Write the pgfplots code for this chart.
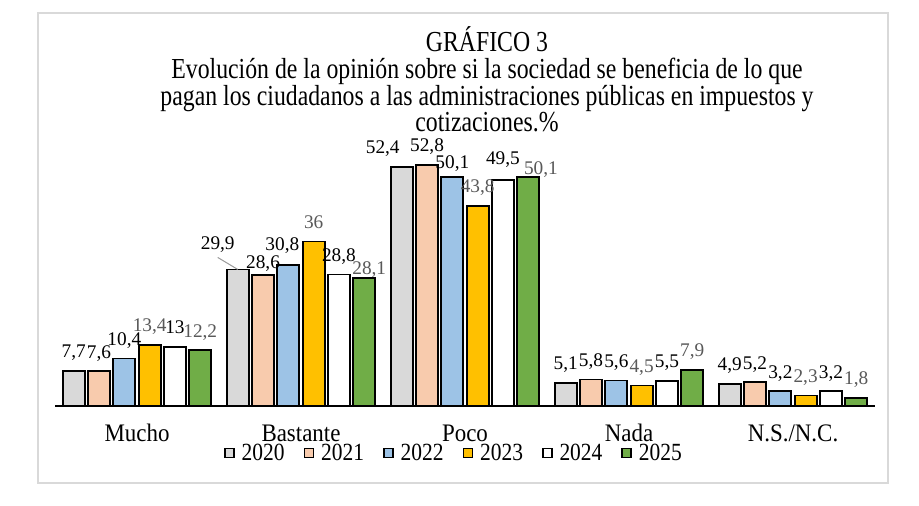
\documentclass[border=0pt]{standalone}
\usepackage{pgfplots}
\pgfplotsset{compat=1.18}
\usepackage{fontspec}
\setmainfont{Liberation Serif}
\newfontfamily\titlefont[FakeStretch=0.82]{Liberation Serif}
\newfontfamily\tickfont[FakeStretch=0.91]{Liberation Serif}
\newfontfamily\legfont[FakeStretch=0.87]{Liberation Serif}
\definecolor{c2020}{HTML}{D9D9D9}
\definecolor{c2021}{HTML}{F8CBAD}
\definecolor{c2022}{HTML}{9DC3E6}
\definecolor{c2023}{HTML}{FFC000}
\definecolor{c2024}{HTML}{FFFFFF}
\definecolor{c2025}{HTML}{70AD47}
\definecolor{lblgray}{HTML}{595959}
\definecolor{framegray}{HTML}{D9D9D9}
\begin{document}
\begin{tikzpicture}
\path[use as bounding box] (0pt,0pt) rectangle (919pt,506pt);
\fill[white] (0pt,0pt) rectangle (919pt,506pt);
\draw[framegray, line width=1.5pt] (38pt,23pt) rectangle (888pt,493pt);
\begin{scope}[every node/.style={anchor=base, inner sep=0pt, font=\titlefont\fontsize{29pt}{30pt}\selectfont}]
\node at (487pt,454.3pt) {GRÁFICO 3};
\node at (487pt,427.6pt) {Evolución de la opinión sobre si la sociedad se beneficia de lo que};
\node at (487pt,400.9pt) {pagan los ciudadanos a las administraciones públicas en impuestos y};
\node at (487pt,374.2pt) {cotizaciones.\%};
\end{scope}
\begin{axis}[
  at={(55pt,100pt)}, anchor=south west,
  scale only axis, width=820pt, height=274pt,
  xmin=-0.5, xmax=4.5, ymin=0, ymax=60,
  clip=false,
  ybar=3.3pt, bar width=22pt,
  axis x line*=bottom, axis y line=none,
  x axis line style={black, line width=1.5pt, -},
  ytick=\empty,
  xtick={0,1,2,3,4},
  xticklabels={Mucho,Bastante,Poco,Nada,N.S./N.C.},
  major tick length=0pt,
  xticklabel style={font=\tickfont\fontsize{25.2pt}{28pt}\selectfont, anchor=base, inner sep=0pt, yshift=-35.5pt},
  /pgf/number format/assume math mode=true,
  /pgf/number format/use comma,
  nodes near coords={\pgfmathprintnumber{\pgfplotspointmeta}},
  every node near coord/.append style={font=\fontsize{19.3pt}{22pt}\selectfont, anchor=base, inner sep=0pt, yshift=13pt},
  every axis plot/.append style={draw=black, line width=1.8pt},
  legend columns=6,
  legend style={at={(0.4854,-0.1715)}, anchor=center, draw=none, fill=none,
    font=\legfont\fontsize{24.7pt}{28pt}\selectfont,
    nodes={inner sep=0pt},
    /tikz/every odd column/.append style={column sep=7pt},
    /tikz/every even column/.append style={column sep=19pt}},
  legend image code/.code={\draw[#1, line width=1.5pt] (0pt,-4.5pt) rectangle (9pt,4.5pt);},
]
\addplot[fill=c2020, nodes near coords style={text=black},
  coordinate style/.condition={x==1}{xshift=-20pt,yshift=6.5pt},
  coordinate style/.condition={x==2}{xshift=-19pt}] coordinates {(0,7.7) (1,29.9) (2,52.4) (3,5.1) (4,4.9)};
\addplot[fill=c2021, nodes near coords style={text=black},
  coordinate style/.condition={x==1}{yshift=-6.5pt}] coordinates {(0,7.6) (1,28.6) (2,52.8) (3,5.8) (4,5.2)};
\addplot[fill=c2022, nodes near coords style={text=black},
  coordinate style/.condition={x==1}{xshift=-6pt,yshift=2pt},
  coordinate style/.condition={x==2}{yshift=-4pt}] coordinates {(0,10.4) (1,30.8) (2,50.1) (3,5.6) (4,3.2)};
\addplot[fill=c2023, nodes near coords style={text=lblgray}] coordinates {(0,13.4) (1,36) (2,43.8) (3,4.5) (4,2.3)};
\addplot[fill=c2024, nodes near coords style={text=black},
  coordinate style/.condition={x==2}{yshift=2pt}] coordinates {(0,13) (1,28.8) (2,49.5) (3,5.5) (4,3.2)};
\addplot[fill=c2025, nodes near coords style={text=lblgray},
  coordinate style/.condition={x==1}{xshift=5pt,yshift=-10pt},
  coordinate style/.condition={x==2}{xshift=12.7pt,yshift=-10pt}] coordinates {(0,12.2) (1,28.1) (2,50.1) (3,7.9) (4,1.8)};
\legend{2020,2021,2022,2023,2024,2025}
\draw[gray!80, line width=1pt] ([xshift=-63.25pt]axis cs:1,29.9) -- ++(-20pt,12pt);
\end{axis}
\end{tikzpicture}
\end{document}
